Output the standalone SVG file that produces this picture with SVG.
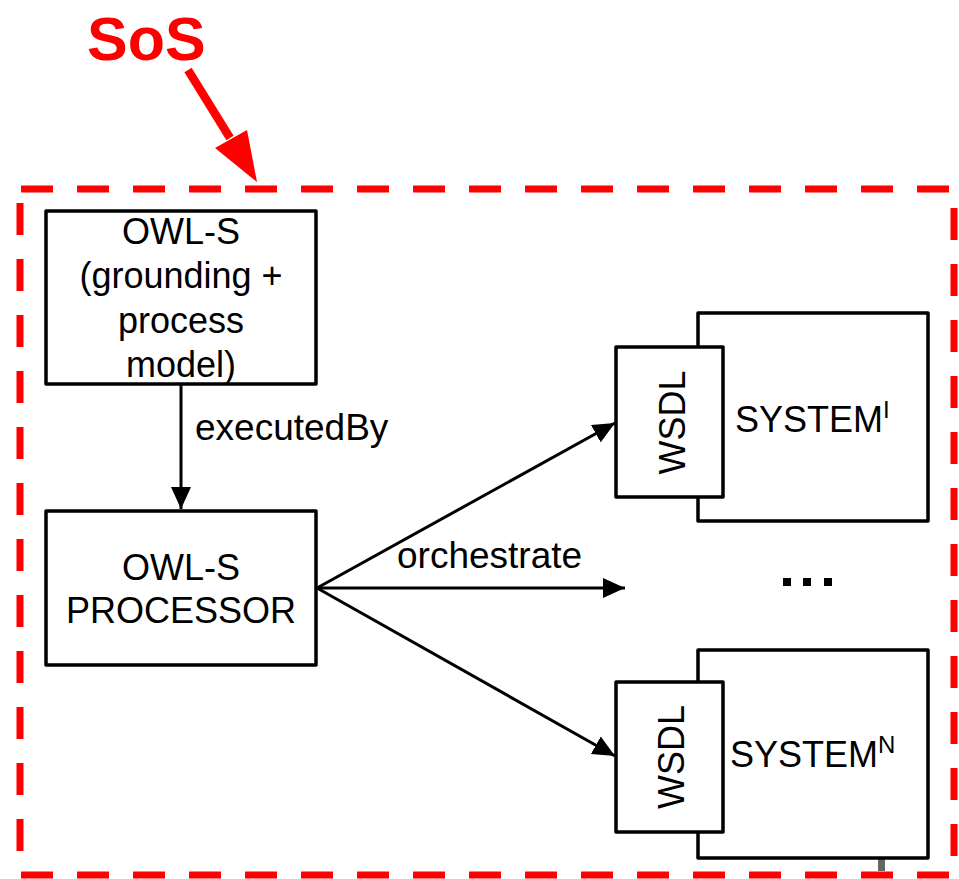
<svg xmlns="http://www.w3.org/2000/svg" width="959" height="879" viewBox="0 0 959 879">
  <style>
    .box { fill: #fff; stroke: #000; stroke-width: 3.5; stroke-linejoin: round; }
    .lbl { font-family: "Liberation Sans", Arial, sans-serif; font-size: 36px; fill: #000; }
    .conn { font-size: 37px; }
    .mid { text-anchor: middle; }
    .edge { stroke: #000; stroke-width: 3; fill: none; }
    .sos { stroke: #ff0000; stroke-width: 7; stroke-dasharray: 32 24; fill: none; }
  </style>
  <defs>
    <marker id="arrow" viewBox="0 0 22 20" refX="22" refY="10" markerWidth="22" markerHeight="20" markerUnits="userSpaceOnUse" orient="auto">
      <path d="M0,0 L22,10 L0,20 Z" fill="#000"/>
    </marker>
  </defs>

  <!-- system-of-systems boundary -->
  <g id="sos-boundary">
    <line class="sos" x1="21" y1="189" x2="954" y2="189"/>
    <line class="sos" x1="954" y1="208" x2="954" y2="875"/>
    <line class="sos" x1="20" y1="203" x2="20" y2="875"/>
    <line class="sos" x1="21" y1="875" x2="954" y2="875"/>
  </g>

  <!-- SoS label and pointer -->
  <g id="sos-label">
    <text x="87" y="60" font-family="'Liberation Sans', Arial, sans-serif" font-size="61" font-weight="bold" fill="#ff0000">SoS</text>
    <line x1="188" y1="70" x2="230" y2="138" stroke="#ff0000" stroke-width="8.5"/>
    <polygon points="257,182 215,148 247,130" fill="#ff0000"/>
  </g>

  <!-- connectors -->
  <g id="connectors">
    <line class="edge" x1="181" y1="384" x2="181" y2="509" marker-end="url(#arrow)"/>
    <line class="edge" x1="317" y1="588" x2="615" y2="423" marker-end="url(#arrow)"/>
    <line class="edge" x1="317" y1="588" x2="625" y2="588" marker-end="url(#arrow)"/>
    <line class="edge" x1="317" y1="588" x2="615" y2="756" marker-end="url(#arrow)"/>
    <text class="lbl conn" x="195" y="440">executedBy</text>
    <text class="lbl conn" x="397" y="568">orchestrate</text>
  </g>

  <!-- OWL-S description -->
  <g id="owls">
    <rect class="box" x="46" y="211" width="270" height="173"/>
    <text class="lbl mid" x="181" y="244">OWL-S</text>
    <text class="lbl mid" x="181" y="288">(grounding +</text>
    <text class="lbl mid" x="181" y="333">process</text>
    <text class="lbl mid" x="181" y="377">model)</text>
  </g>

  <!-- OWL-S processor -->
  <g id="processor">
    <rect class="box" x="46" y="511" width="270" height="154"/>
    <text class="lbl mid" x="181" y="580">OWL-S</text>
    <text class="lbl mid" x="181" y="623">PROCESSOR</text>
  </g>

  <!-- first system -->
  <g id="system-i">
    <rect class="box" x="698" y="313" width="230" height="208"/>
    <rect class="box" x="616" y="347" width="107" height="150"/>
    <text class="lbl mid" transform="translate(685,422.5) rotate(-90)">WSDL</text>
    <text class="lbl" x="735" y="432">SYSTEM<tspan font-size="24" dy="-14">I</tspan></text>
  </g>

  <!-- ellipsis between systems -->
  <g id="ellipsis" fill="#000">
    <rect x="783" y="578" width="8" height="8"/>
    <rect x="803" y="578" width="8" height="8"/>
    <rect x="824" y="578" width="8" height="8"/>
  </g>

  <!-- last system -->
  <g id="system-n">
    <line x1="881.5" y1="858" x2="881.5" y2="871" stroke="#666" stroke-width="7"/>
    <rect class="box" x="698" y="650" width="230" height="208"/>
    <rect class="box" x="616" y="682" width="107" height="150"/>
    <text class="lbl mid" transform="translate(684,757) rotate(-90)">WSDL</text>
    <text class="lbl" x="730" y="767">SYSTEM<tspan font-size="24" dy="-14">N</tspan></text>
  </g>
</svg>
